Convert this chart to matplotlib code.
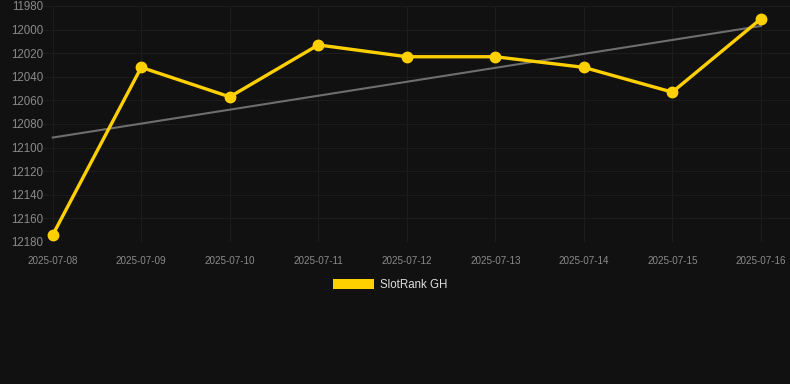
import numpy as np
import matplotlib
matplotlib.use('Agg')
import matplotlib.pyplot as plt
from matplotlib.patches import Patch

dates = ['2025-07-08', '2025-07-09', '2025-07-10', '2025-07-11', '2025-07-12',
         '2025-07-13', '2025-07-14', '2025-07-15', '2025-07-16']
rank = [12174, 12032, 12057, 12013, 12023, 12023, 12032, 12053, 11991]
series_name = 'SlotRank GH'

plt.rcParams['font.family'] = ['Liberation Sans', 'DejaVu Sans']

fig = plt.figure(figsize=(7.9, 3.84), dpi=100, facecolor='#111111')
ax = fig.add_axes([43 / 790, 1 - 242 / 384, 1 - 43 / 790, 236 / 384])
ax.set_facecolor('#111111')

x = np.arange(len(dates))

# trend line (least squares fit)
k, b = np.polyfit(x, rank, 1)
ax.plot(x, k * x + b, color='#6e6e6e', lw=1.5, zorder=2)

ax.plot(x, rank, color='#ffd000', lw=2.4, marker='o', markersize=7.5, zorder=3)

ax.set_xlim(-0.11, 8.33)
ax.set_ylim(12180, 11980)
ax.set_yticks(np.arange(11980, 12181, 20))
ax.set_xticks(x)
ax.set_xticklabels(dates)

ax.grid(True, color='#1c1c1c', lw=0.8)
for s in ax.spines.values():
    s.set_visible(False)
ax.axhline(12180, color='#2e2e2e', lw=0.8)
ax.tick_params(axis='y', length=0, labelsize=8.3, labelcolor='#8a8a8a', pad=0)
ax.tick_params(axis='x', length=0, labelsize=7.1, labelcolor='#8a8a8a', pad=10)

leg = fig.legend(handles=[Patch(facecolor='#ffd000', label=series_name)],
                 loc='center', bbox_to_anchor=(390 / 790, 1 - 285 / 384),
                 frameon=False, fontsize=8.3, handlelength=3.6, handleheight=0.9,
                 handletextpad=0.5)
for t in leg.get_texts():
    t.set_color('#dddddd')

plt.savefig('out.png', facecolor='#111111')
